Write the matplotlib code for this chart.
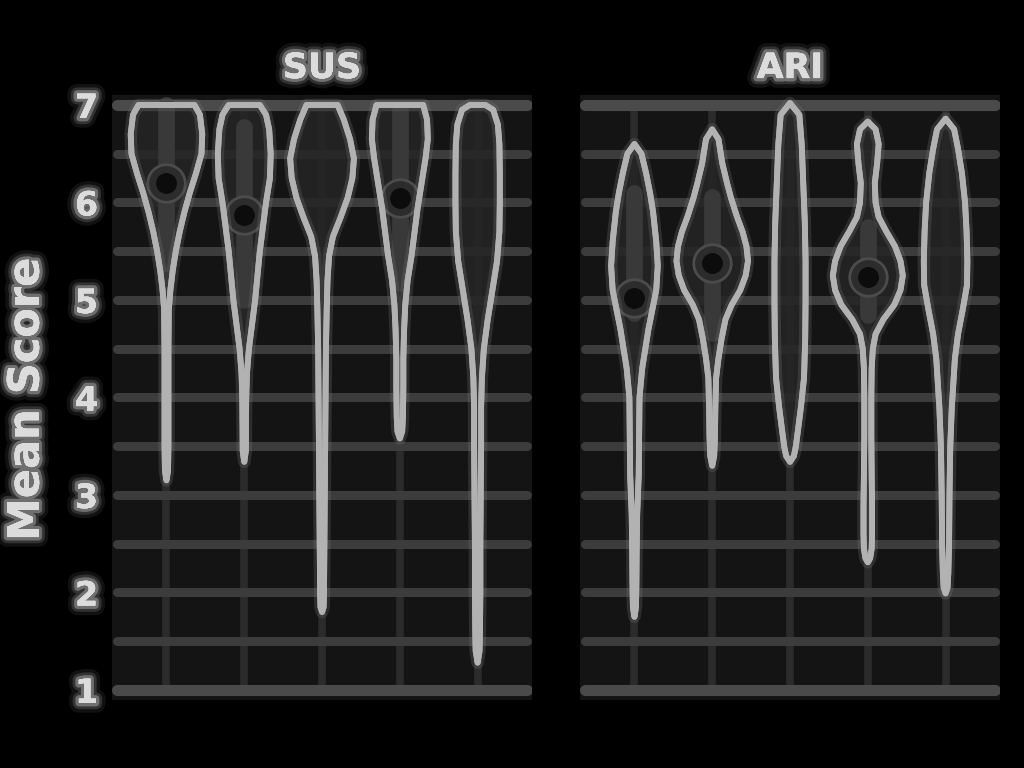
import matplotlib
matplotlib.use('agg')
import matplotlib.pyplot as plt
import matplotlib.patheffects as pe

# violin outlines: score levels (top -> bottom) and half widths
sus_1_y = [7.0, 6.9, 6.7, 6.5, 6.3, 6.1, 5.9, 5.7, 5.5, 5.3, 5.1, 4.9, 4.5, 4.0, 3.5, 3.25, 3.15]
sus_1_w = [0.36, 0.43, 0.46, 0.45, 0.38, 0.30, 0.23, 0.17, 0.12, 0.08, 0.05, 0.03, 0.025, 0.025, 0.025, 0.02, 0.0]
sus_2_y = [7.0, 6.9, 6.75, 6.5, 6.25, 6.0, 5.75, 5.5, 5.25, 5.0, 4.75, 4.5, 4.25, 4.0, 3.7, 3.45, 3.34]
sus_2_w = [0.20, 0.28, 0.32, 0.34, 0.33, 0.28, 0.24, 0.20, 0.17, 0.14, 0.10, 0.06, 0.035, 0.025, 0.022, 0.02, 0.0]
sus_3_y = [7.0, 6.85, 6.65, 6.45, 6.25, 6.05, 5.85, 5.65, 5.45, 5.2, 4.9, 4.5, 4.0, 3.5, 3.0, 2.5, 2.0, 1.85, 1.8]
sus_3_w = [0.2, 0.28, 0.36, 0.41, 0.39, 0.33, 0.24, 0.14, 0.09, 0.07, 0.06, 0.05, 0.045, 0.04, 0.035, 0.03, 0.025, 0.02, 0.0]
sus_4_y = [7.0, 6.85, 6.65, 6.45, 6.2, 5.95, 5.7, 5.45, 5.2, 4.95, 4.7, 4.4, 4.1, 3.8, 3.65, 3.58]
sus_4_w = [0.30, 0.35, 0.36, 0.33, 0.28, 0.23, 0.19, 0.15, 0.10, 0.07, 0.055, 0.045, 0.045, 0.04, 0.03, 0.0]
sus_5_y = [7.0, 6.95, 6.8, 6.6, 6.3, 6.0, 5.7, 5.4, 5.1, 4.8, 4.5, 4.2, 3.9, 3.5, 3.0, 2.5, 2.0, 1.6, 1.4, 1.28]
sus_5_w = [0.1, 0.2, 0.26, 0.28, 0.285, 0.285, 0.28, 0.25, 0.19, 0.13, 0.08, 0.055, 0.045, 0.045, 0.04, 0.035, 0.035, 0.03, 0.025, 0.0]

ari_1_y = [6.6, 6.5, 6.3, 6.1, 5.9, 5.6, 5.35, 5.1, 4.9, 4.7, 4.5, 4.3, 4.0, 3.6, 3.2, 2.8, 2.4, 2.1, 1.85, 1.75]
ari_1_w = [0.0, 0.09, 0.15, 0.2, 0.24, 0.28, 0.30, 0.28, 0.23, 0.18, 0.14, 0.1, 0.065, 0.06, 0.055, 0.035, 0.028, 0.025, 0.02, 0.0]
ari_2_y = [6.75, 6.65, 6.4, 6.2, 6.05, 5.85, 5.7, 5.55, 5.4, 5.25, 5.1, 4.95, 4.8, 4.6, 4.4, 4.2, 3.9, 3.6, 3.4, 3.3]
ari_2_w = [0.0, 0.08, 0.13, 0.19, 0.24, 0.32, 0.39, 0.44, 0.46, 0.43, 0.36, 0.25, 0.17, 0.12, 0.08, 0.05, 0.04, 0.035, 0.025, 0.0]
ari_3_y = [7.02, 6.9, 6.6, 6.2, 5.8, 5.4, 5.0, 4.6, 4.2, 3.9, 3.65, 3.5, 3.4, 3.34]
ari_3_w = [0.0, 0.12, 0.15, 0.17, 0.19, 0.2, 0.2, 0.195, 0.18, 0.14, 0.1, 0.075, 0.05, 0.0]
ari_4_y = [6.83, 6.75, 6.6, 6.4, 6.2, 6.0, 5.85, 5.7, 5.55, 5.4, 5.25, 5.1, 4.95, 4.8, 4.65, 4.5,
           4.3, 4.0, 3.6, 3.2, 2.9, 2.6, 2.45, 2.35, 2.31]
ari_4_w = [0.0, 0.1, 0.14, 0.12, 0.09, 0.1, 0.14, 0.24, 0.35, 0.42, 0.45, 0.42, 0.34, 0.2, 0.1, 0.065,
           0.05, 0.045, 0.045, 0.05, 0.055, 0.055, 0.05, 0.03, 0.0]
ari_5_y = [6.86, 6.75, 6.55, 6.3, 6.0, 5.7, 5.4, 5.15, 4.9, 4.65, 4.4, 4.15, 3.9, 3.5, 3.0, 2.5, 2.2, 2.05, 1.99]
ari_5_w = [0.0, 0.11, 0.16, 0.21, 0.25, 0.27, 0.28, 0.275, 0.22, 0.16, 0.12, 0.1, 0.08, 0.06, 0.05, 0.045, 0.035, 0.025, 0.0]

# inner boxes (None = no box drawn)
sus_q1 = [5.38, 5.0, None, 5.17, None]
sus_q3 = [7.0, 6.77, None, 6.95, None]
sus_median = [6.2, 5.87, None, 6.05, None]
ari_q1 = [4.87, 4.66, None, 4.85, None]
ari_q3 = [6.1, 6.06, None, 5.75, None]
ari_median = [5.02, 5.38, None, 5.24, None]

score_ticks = [1, 2, 3, 4, 5, 6, 7]
grid_levels = [1.5, 2, 2.5, 3, 3.5, 4, 4.5, 5, 5.5, 6, 6.5]

# soft glow round the texts
glow = [pe.withStroke(linewidth=14, foreground='#ffffff', alpha=0.07),
        pe.withStroke(linewidth=9, foreground='#ffffff', alpha=0.14),
        pe.withStroke(linewidth=5, foreground='#ffffff', alpha=0.3),
        pe.Normal()]
soft = [pe.withStroke(linewidth=9, foreground='#7a7a7a', alpha=0.25), pe.Normal()]


def draw_panel(ax, title, shapes, q1, q3, med, show_ticks):
    ax.set_facecolor('#141414')
    ax.set_xlim(-0.7, 4.7)
    ax.set_ylim(0.9, 7.1)
    for s in ax.spines.values():
        s.set_visible(False)
    # grid
    ax.vlines(range(len(shapes)), 1, 7, colors='#2b2b2b', lw=5.5, zorder=1)
    hl = ax.hlines(grid_levels, -0.64, 4.64, colors='#3c3c3c', lw=6.5, zorder=1)
    hl.set_capstyle('round')
    he = ax.hlines([1, 7], -0.64, 4.64, colors='#4a4a4a', lw=8, zorder=1)
    he.set_capstyle('round')
    # violins
    for i, (ys, ws) in enumerate(shapes):
        xs = [i - w for w in ws] + [i + w for w in ws[::-1]]
        yy = list(ys) + list(ys[::-1])
        ax.fill(xs, yy, facecolor='#252525', alpha=0.85, edgecolor='none', zorder=2)
        line = ax.fill(xs, yy, facecolor='none', edgecolor='#b2b2b2', lw=4.2,
                       joinstyle='round', zorder=4)
        line[0].set_path_effects(soft)
        if med[i] is not None:
            ax.plot([i, i], [q1[i], q3[i]], color='#393939', lw=12,
                    solid_capstyle='round', zorder=3)
            ax.plot(i, med[i], 'o', ms=28, color='#4c4c4c', zorder=3)
            ax.plot(i, med[i], 'o', ms=24, color='#2c2c2c', zorder=3)
            ax.plot(i, med[i], 'o', ms=14, color='#0c0c0c', zorder=3)
    ax.set_xticks([])
    ax.set_yticks(score_ticks)
    ax.tick_params(axis='y', length=0, pad=10)
    if show_ticks:
        ax.set_yticklabels([str(t) for t in score_ticks], fontsize=24, fontweight='bold',
                           color='#dcdcdc')
        for lab in ax.get_yticklabels():
            lab.set_path_effects(glow)
    else:
        ax.set_yticklabels([])
    t = ax.text(0.5, 1.045, title, transform=ax.transAxes, ha='center', va='center',
                fontsize=25, fontweight='bold', color='#dcdcdc')
    t.set_path_effects(glow)


fig = plt.figure(figsize=(10.24, 7.68), dpi=100, facecolor='black')
ax_sus = fig.add_axes([0.1094, 0.0889, 0.4102, 0.7871])
ax_ari = fig.add_axes([0.5664, 0.0889, 0.4102, 0.7871])

draw_panel(ax_sus, 'SUS',
           [(sus_1_y, sus_1_w), (sus_2_y, sus_2_w), (sus_3_y, sus_3_w), (sus_4_y, sus_4_w), (sus_5_y, sus_5_w)],
           sus_q1, sus_q3, sus_median, True)
draw_panel(ax_ari, 'ARI',
           [(ari_1_y, ari_1_w), (ari_2_y, ari_2_w), (ari_3_y, ari_3_w), (ari_4_y, ari_4_w), (ari_5_y, ari_5_w)],
           ari_q1, ari_q3, ari_median, False)

yl = fig.text(0.026, 0.48, 'Mean Score', rotation=90, ha='center', va='center',
              fontsize=31, fontweight='bold', color='#dcdcdc')
yl.set_path_effects(glow)

plt.savefig('out.png', dpi=100, facecolor='black')
